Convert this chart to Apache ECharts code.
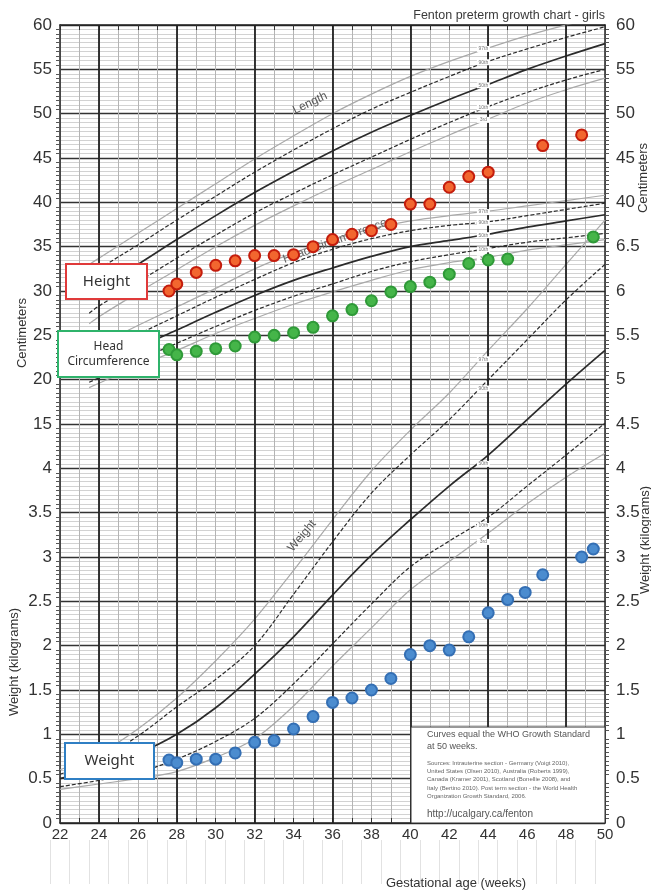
<!DOCTYPE html>
<html>
<head>
<meta charset="utf-8">
<script src="https://cdn.jsdelivr.net/npm/echarts@6/dist/echarts.min.js"></script>
<style>
html, body { margin: 0; padding: 0; background: #fff; }
#chart { width: 651px; height: 890px; }
</style>
</head>
<body>
<div id="chart"></div>
<script>
// tick labels (one row of the grid per label, counted from the bottom)
var leftLabels = ['0', '0.5', '1', '1.5', '2', '2.5', '3', '3.5', '4', '15', '20', '25', '30', '35', '40', '45', '50', '55', '60'];
var rightLabels = ['0', '0.5', '1', '1.5', '2', '2.5', '3', '3.5', '4', '4.5', '5', '5.5', '6', '6.5', '40', '45', '50', '55', '60'];
var thickWeeks = [24, 28, 32, 36, 40, 44, 48];

// measured points
var heightWeeks = [27.6, 28, 29, 30, 31, 32, 33, 34, 35, 36, 37, 38, 39, 40, 41, 42, 43, 44, 46.8, 48.8];
var heightCm = [30.0, 30.8, 32.1, 32.9, 33.4, 34.0, 34.0, 34.1, 35.0, 35.8, 36.4, 36.8, 37.5, 39.8, 39.8, 41.7, 42.9, 43.4, 46.4, 47.6];

var headWeeks = [27.6, 28, 29, 30, 31, 32, 33, 34, 35, 36, 37, 38, 39, 40, 41, 42, 43, 44, 45, 49.4];
var headCm = [23.4, 22.8, 23.2, 23.5, 23.8, 24.8, 25.0, 25.3, 25.9, 27.2, 27.9, 28.9, 29.9, 30.5, 31.0, 31.9, 33.1, 33.5, 33.6, 36.1];

var weightWeeks = [27.6, 28, 29, 30, 31, 32, 33, 34, 35, 36, 37, 38, 39, 40, 41, 42, 43, 44, 45, 45.9, 46.8, 48.8, 49.4];
var weightKg = [0.71, 0.68, 0.72, 0.72, 0.79, 0.91, 0.93, 1.06, 1.2, 1.36, 1.41, 1.5, 1.63, 1.9, 2.0, 1.95, 2.1, 2.37, 2.52, 2.6, 2.8, 3.0, 3.09];

// reference curves
var curveWeeks = [23.5, 24, 26, 28, 30, 32, 34, 36, 38, 40, 42, 44, 46, 48, 50];
var len97 = [33.0, 33.7, 36.5, 39.3, 42.1, 44.9, 47.5, 50.0, 52.2, 54.2, 55.9, 57.4, 58.8, 60.0, 61.1];
var len90 = [31.8, 32.5, 35.2, 38.0, 40.7, 43.4, 45.9, 48.3, 50.5, 52.4, 54.2, 55.9, 57.3, 58.6, 59.8];
var len50 = [29.6, 30.3, 33.0, 35.8, 38.5, 41.1, 43.5, 45.8, 47.9, 49.8, 51.6, 53.3, 55.0, 56.5, 57.9];
var len10 = [27.5, 28.3, 31.0, 33.7, 36.3, 38.8, 41.0, 43.1, 45.1, 47.1, 49.0, 50.8, 52.4, 53.8, 55.0];
var len3 = [26.3, 27.1, 29.8, 32.4, 35.0, 37.4, 39.6, 41.7, 43.7, 45.7, 47.6, 49.4, 51.2, 52.7, 54.0];

var hc97 = [23.3, 23.9, 26.1, 28.2, 30.3, 32.5, 34.3, 35.8, 37.0, 37.9, 38.5, 39.0, 39.6, 40.2, 40.8];
var hc90 = [22.4, 23.0, 25.1, 27.2, 29.3, 31.3, 33.2, 34.7, 35.9, 36.8, 37.4, 37.8, 38.5, 39.2, 39.9];
var hc50 = [20.9, 21.5, 23.6, 25.6, 27.6, 29.5, 31.2, 32.6, 33.9, 35.0, 35.7, 36.4, 37.2, 37.9, 38.6];
var hc10 = [19.7, 20.2, 22.2, 24.1, 26.0, 27.8, 29.4, 30.8, 32.2, 33.3, 34.1, 34.8, 35.5, 36.0, 36.5];
var hc3 = [19.1, 19.6, 21.5, 23.3, 25.2, 26.9, 28.5, 29.9, 31.2, 32.4, 33.2, 33.8, 34.6, 35.2, 35.8];

var wtWeeks = [22, 24, 26, 28, 30, 32, 34, 36, 38, 40, 42, 44, 46, 48, 50];
var wt97 = [0.60, 0.78, 1.06, 1.41, 1.83, 2.30, 2.85, 3.42, 3.97, 4.43, 4.85, 5.33, 5.80, 6.30, 6.80];
var wt90 = [0.55, 0.72, 0.98, 1.31, 1.62, 2.00, 2.58, 3.17, 3.72, 4.15, 4.55, 5.00, 5.45, 5.90, 6.30];
var wt50 = [0.50, 0.62, 0.78, 1.00, 1.30, 1.68, 2.10, 2.57, 3.02, 3.42, 3.80, 4.15, 4.55, 4.95, 5.33];
var wt10 = [0.41, 0.48, 0.57, 0.72, 0.92, 1.18, 1.57, 2.02, 2.47, 2.89, 3.18, 3.45, 3.80, 4.15, 4.51];
var wt3 = [0.38, 0.44, 0.50, 0.58, 0.74, 0.95, 1.32, 1.77, 2.20, 2.63, 2.95, 3.27, 3.60, 3.90, 4.17];

var pctNames = ['97th', '90th', '50th', '10th', '3rd'];

var FONT = 'Arial, "Liberation Sans", sans-serif';
var lightLine = { color: '#a9a9a9', width: 1.2, type: 'solid' };
var dashLine = { color: '#2b2b2b', width: 1.2, type: [4, 2] };
var solidLine = { color: '#2b2b2b', width: 1.7, type: 'solid' };
var pctStyles = [lightLine, dashLine, solidLine, dashLine, lightLine];

var chart = echarts.init(document.getElementById('chart'));

function pairs(xs, ys) {
  return xs.map(function (x, i) { return [x, ys[i]]; });
}

var series = [];
function addCurves(sets, xs, yIdx) {
  sets.forEach(function (ys, k) {
    var i44 = xs.indexOf(44);
    series.push({
      type: 'line',
      xAxisIndex: 0,
      yAxisIndex: yIdx,
      data: pairs(xs, ys),
      smooth: 0.35,
      showSymbol: false,
      silent: true,
      lineStyle: pctStyles[k],
      z: 3,
      markPoint: {
        silent: true,
        symbol: 'rect',
        symbolSize: [13, 6],
        itemStyle: { color: '#fff' },
        label: { show: true, position: 'inside', formatter: pctNames[k], fontSize: 5, color: '#777', fontFamily: FONT },
        data: [{ coord: [xs[i44] - 0.25, ys[i44] - 0.1] }]
      }
    });
  });
}

// thick week lines go on a first, invisible series
series.push({
  type: 'line',
  xAxisIndex: 0,
  yAxisIndex: 0,
  data: [[22, 0]],
  showSymbol: false,
  lineStyle: { opacity: 0 },
  silent: true,
  z: 1,
  markLine: {
    silent: true,
    symbol: 'none',
    label: { show: false },
    lineStyle: { color: '#222', width: 1.8, type: 'solid' },
    data: thickWeeks.map(function (w) { return { xAxis: w }; })
  }
});

addCurves([len97, len90, len50, len10, len3], curveWeeks, 2);
addCurves([hc97, hc90, hc50, hc10, hc3], curveWeeks, 2);
addCurves([wt97, wt90, wt50, wt10, wt3], wtWeeks, 3);

function dots(xs, ys, yIdx, fill, border) {
  return {
    type: 'scatter',
    xAxisIndex: 0,
    yAxisIndex: yIdx,
    data: pairs(xs, ys),
    symbolSize: 11,
    z: 6,
    itemStyle: { color: fill, borderColor: border, borderWidth: 2, opacity: 1 }
  };
}
series.push(dots(heightWeeks, heightCm, 2, '#f2662f', '#c41c0c'));
series.push(dots(headWeeks, headCm, 2, '#45b549', '#2f9a38'));
series.push(dots(weightWeeks, weightKg, 3, '#4b8ccf', '#346fb4'));

function vtext(txt, x, y, size) {
  return {
    type: 'text', x: x, y: y, rotation: Math.PI / 2, z: 20,
    style: { text: txt, textAlign: 'center', textVerticalAlign: 'middle', font: size + 'px ' + FONT, fill: '#333' }
  };
}

function labelBox(x, y, w, h, color, lines, size) {
  var items = [{
    type: 'rect',
    shape: { x: x, y: y, width: w, height: h },
    style: { fill: '#fff', stroke: color, lineWidth: 2 },
    z: 30
  }];
  lines.forEach(function (t, i) {
    items.push({
      type: 'text', z: 31,
      style: {
        text: t, x: x + w / 2, y: y + h / 2 + (i - (lines.length - 1) / 2) * (size + 3),
        textAlign: 'center', textVerticalAlign: 'middle',
        font: size + 'px "Noto Sans", "Open Sans", sans-serif', fill: '#333'
      }
    });
  });
  return items;
}

var graphics = [
  { type: 'text', z: 20, style: { text: 'Fenton preterm growth chart - girls', x: 605, y: 16, textAlign: 'right', textVerticalAlign: 'middle', font: '12.5px ' + FONT, fill: '#3a3a3a' } },
  { type: 'text', z: 20, style: { text: 'Gestational age (weeks)', x: 456, y: 883, textAlign: 'center', textVerticalAlign: 'middle', font: '13px ' + FONT, fill: '#333' } },
  vtext('Centimeters', 22, 333, 13),
  vtext('Weight (kilograms)', 14, 662, 13),
  vtext('Centimeters', 643, 178, 13),
  vtext('Weight (kilograms)', 645, 540, 13),
  { type: 'text', x: 310, y: 103, rotation: 25.6 * Math.PI / 180, z: 20,
    style: { text: 'Length', textAlign: 'center', textVerticalAlign: 'middle', font: '12px ' + FONT, fill: '#555' } },
  { type: 'text', x: 335, y: 241, rotation: 20 * Math.PI / 180, z: 4,
    style: { text: 'Head Circumference', textAlign: 'center', textVerticalAlign: 'middle', font: '12px ' + FONT, fill: '#666' } },
  { type: 'text', x: 302, y: 536, rotation: 50 * Math.PI / 180, z: 20,
    style: { text: 'Weight', textAlign: 'center', textVerticalAlign: 'middle', font: '12px ' + FONT, fill: '#555' } },
  // notes box
  { type: 'rect', z: 20, shape: { x: 411, y: 727, width: 194, height: 96 }, style: { fill: '#fff', stroke: '#333', lineWidth: 1 } },
  { type: 'text', z: 21, style: { text: 'Curves equal the WHO Growth Standard\nat 50 weeks.', x: 427, y: 729, lineHeight: 12, font: '9px ' + FONT, fill: '#555' } },
  { type: 'text', z: 21, style: {
    text: 'Sources: Intrauterine section - Germany (Voigt 2010),\nUnited States (Olsen 2010), Australia (Roberts 1999),\nCanada (Kramer 2001), Scotland (Bonellie 2008), and\nItaly (Bertino 2010). Post term section - the World Health\nOrganization Growth Standard, 2006.',
    x: 427, y: 759, lineHeight: 8.3, font: '6px ' + FONT, fill: '#666' } },
  { type: 'text', z: 21, style: { text: 'http://ucalgary.ca/fenton', x: 427, y: 809, font: '10px ' + FONT, fill: '#555' } }
];
graphics = graphics.concat(labelBox(66, 264, 81, 35, '#e03a3a', ['Height'], 15));
graphics = graphics.concat(labelBox(58, 331, 101, 46, '#2fb36b', ['Head', 'Circumference'], 12));
graphics = graphics.concat(labelBox(65, 743, 89, 36, '#2f7fc4', ['Weight'], 15));

var option = {
  backgroundColor: '#fff',
  animation: false,
  textStyle: { fontFamily: FONT },
  grid: [
    { left: 60, right: 46, top: 25, bottom: 67 },
    { left: 50, right: 56, top: 840, height: 44 }
  ],
  xAxis: [
    {
      type: 'value', gridIndex: 0, position: 'bottom', min: 22, max: 50, interval: 2,
      axisLine: { show: true, onZero: false, lineStyle: { color: '#222', width: 1.5 } },
      axisTick: { show: true, inside: true, length: 5, lineStyle: { color: '#333' } },
      minorTick: { show: true, splitNumber: 2, length: 5, lineStyle: { color: '#333' } },
      axisLabel: { fontSize: 15, color: '#333', margin: 4 },
      splitLine: { show: true, lineStyle: { color: '#b4b4b4', width: 1 } },
      minorSplitLine: { show: true, lineStyle: { color: '#b4b4b4', width: 1 } }
    },
    {
      type: 'value', gridIndex: 0, position: 'top', min: 22, max: 50, interval: 2,
      axisLine: { show: true, onZero: false, lineStyle: { color: '#222', width: 1.5 } },
      axisTick: { show: true, inside: true, length: 5, lineStyle: { color: '#333' } },
      minorTick: { show: true, splitNumber: 2, length: 5, lineStyle: { color: '#333' } },
      axisLabel: { show: false },
      splitLine: { show: false }
    },
    {
      type: 'value', gridIndex: 1, min: 22, max: 50, interval: 1,
      axisLine: { show: false }, axisTick: { show: false }, axisLabel: { show: false },
      splitLine: { show: true, lineStyle: { color: '#e2e2e2', width: 1 } }
    }
  ],
  yAxis: [
    {
      type: 'value', gridIndex: 0, position: 'left', min: 0, max: 18, interval: 1,
      axisLine: { show: true, onZero: false, lineStyle: { color: '#222', width: 1.5 } },
      axisTick: { show: false },
      minorTick: { show: true, splitNumber: 10, length: 4, lineStyle: { color: '#555' } },
      axisLabel: { fontSize: 17, color: '#333', margin: 8, formatter: function (v) { return leftLabels[Math.round(v)]; } },
      splitLine: { show: true, lineStyle: { color: '#333', width: 1.4 } },
      minorSplitLine: { show: true, lineStyle: { color: '#d2d2d2', width: 1 } }
    },
    {
      type: 'value', gridIndex: 0, position: 'right', min: 0, max: 18, interval: 1,
      axisLine: { show: true, onZero: false, lineStyle: { color: '#222', width: 1.5 } },
      axisTick: { show: false },
      minorTick: { show: true, splitNumber: 10, length: 4, lineStyle: { color: '#555' } },
      axisLabel: { fontSize: 17, color: '#333', margin: 11, formatter: function (v) { return rightLabels[Math.round(v)]; } },
      splitLine: { show: false }
    },
    { type: 'value', gridIndex: 0, min: -30, max: 60, show: false },
    { type: 'value', gridIndex: 0, min: 0, max: 9, show: false },
    { type: 'value', gridIndex: 1, min: 0, max: 1, show: false }
  ],
  graphic: graphics,
  series: series
};
chart.setOption(option);
</script>
</body>
</html>
